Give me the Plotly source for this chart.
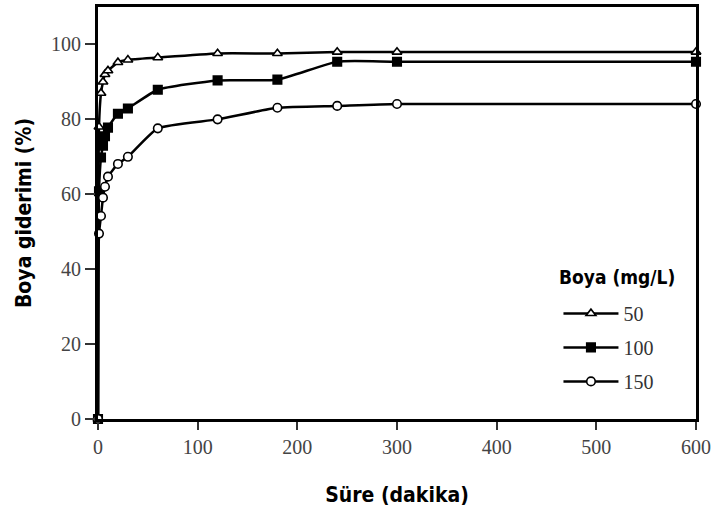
import plotly.graph_objects as go

# Contact time (minutes) and dye removal (%) for three initial dye concentrations
time_min = [0, 1, 3, 5, 7, 10, 20, 30, 60, 120, 180, 240, 300, 600]
removal_50 = [0, 78.0, 87.0, 90.0, 92.0, 93.0, 95.2, 95.9, 96.5, 97.6, 97.6, 98.0, 98.0, 98.0]
removal_100 = [0, 60.8, 69.8, 73.0, 75.5, 77.8, 81.5, 82.9, 87.9, 90.4, 90.6, 95.4, 95.4, 95.4]
removal_150 = [0, 49.5, 54.2, 59.1, 62.0, 64.7, 68.1, 70.0, 77.6, 80.0, 83.1, 83.6, 84.1, 84.1]

series_names = ["50", "100", "150"]
x_ticks = [0, 100, 200, 300, 400, 500, 600]
y_ticks = [0, 20, 40, 60, 80, 100]

serif = "Liberation Serif, Times New Roman, serif"
narrow_bold = "Liberation Sans Narrow, Arial Narrow, DejaVu Sans Condensed, sans-serif"

styles = [
    dict(symbol="triangle-up", color="white"),
    dict(symbol="square", color="black"),
    dict(symbol="circle", color="white"),
]

fig = go.Figure()
for name, values, st in zip(series_names, [removal_50, removal_100, removal_150], styles):
    fig.add_trace(go.Scatter(
        x=time_min, y=values, name=name, mode="lines+markers", legendgroup=name,
        line=dict(color="black", width=2.5, shape="spline", smoothing=0.5),
        marker=dict(symbol=st["symbol"], size=8.5, color=st["color"],
                    line=dict(color="black", width=1.6)),
        cliponaxis=False,
    ))

# Legend heading drawn as its own label above the entries
fig.add_annotation(
    text="<b>Boya (mg/L)</b>", xref="paper", yref="paper", x=0.868, y=0.345,
    xanchor="center", yanchor="middle", showarrow=False,
    font=dict(family=narrow_bold, size=19, color="black"),
)

fig.update_layout(
    width=715, height=520,
    margin=dict(l=98, r=19, t=4, b=101),
    paper_bgcolor="white", plot_bgcolor="white",
    showlegend=True,
    legend=dict(
        x=0.77, y=0.3036, xanchor="left", yanchor="top",
        bgcolor="rgba(0,0,0,0)",
        font=dict(family=serif, size=20, color="#333"),
        itemwidth=55, tracegroupgap=5,
    ),
    xaxis=dict(
        range=[0, 600], tickvals=x_ticks, ticks="outside", ticklen=8, tickwidth=1.5,
        tickcolor="#333", showline=True, linewidth=3, linecolor="black", mirror=True,
        showgrid=False, zeroline=False,
        tickfont=dict(family=serif, size=20, color="#444"),
        title=dict(text="<b>Süre (dakika)</b>", font=dict(family=narrow_bold, size=21, color="black"), standoff=31),
    ),
    yaxis=dict(
        range=[0, 110], tickvals=y_ticks, ticks="outside", ticklen=10, tickwidth=1.5,
        tickcolor="#333", showline=True, linewidth=3, linecolor="black", mirror=True,
        showgrid=False, zeroline=False,
        tickfont=dict(family=serif, size=20, color="#444"),
        title=dict(text="<b>Boya giderimi (%)</b>", font=dict(family=narrow_bold, size=21, color="black"), standoff=14),
    ),
)

fig.write_html("out.html")
